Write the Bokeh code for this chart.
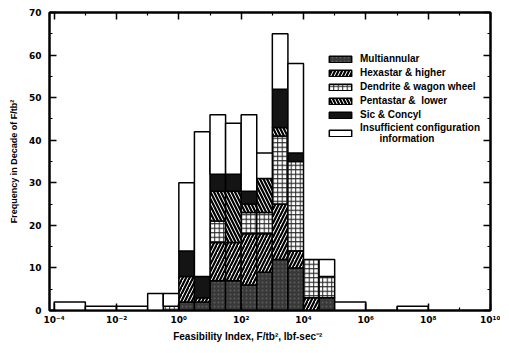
import numpy as np
from bokeh.plotting import figure
from bokeh.models import (ColumnDataSource, FixedTicker, LinearAxis, LogAxis,
                          Legend, LegendItem, Range1d)
from bokeh.embed import file_html
from bokeh.resources import INLINE

# ---- data (bin edges are log10 of Feasibility Index) ----
bin_lo = [-4, -3, -2, -1, -0.5, 0, 0.5, 1, 1.5, 2, 2.5, 3, 3.5, 4, 4.5, 5, 7]
bin_hi = [-3, -2, -1, -0.5, 0, 0.5, 1, 1.5, 2, 2.5, 3, 3.5, 4, 4.5, 5, 6, 8]

multiannular = [0, 0, 0, 0, 0, 2, 2, 7, 7, 6, 9, 12, 10, 0, 3, 0, 0]
hexastar     = [0, 0, 0, 0, 0, 6, 1, 9, 9, 12, 9, 13, 4, 3, 0, 0, 0]
dendrite     = [0, 0, 0, 0, 1, 0, 0, 5, 0, 5, 5, 16, 21, 9, 5, 0, 0]
pentastar    = [0, 0, 0, 0, 0, 0, 0, 7, 12, 2, 8, 2, 0, 0, 0, 0, 0]
sic_concyl   = [0, 0, 0, 0, 0, 6, 5, 4, 4, 3, 0, 9, 2, 0, 0, 0, 0]
insufficient = [2, 1, 1, 4, 3, 16, 34, 14, 12, 18, 6, 13, 21, 0, 4, 2, 1]

categories = ["Multiannular", "Hexastar & higher", "Dendrite & wagon wheel",
              "Pentastar &  lower", "Sic & Concyl",
              "Insufficient configuration\n       information"]
series = [multiannular, hexastar, dendrite, pentastar, sic_concyl, insufficient]

x_tick_exps = [-4, -2, 0, 2, 4, 6, 8, 10]
x_tick_labels = ["10\u207b\u2074", "10\u207b\u00b2", "10\u2070", "10\u00b2",
                 "10\u2074", "10\u2076", "10\u2078", "10\u00b9\u2070"]
x_minor_exps = [-3, -1, 1, 3, 5, 7, 9]
y_ticks = [0, 10, 20, 30, 40, 50, 60, 70]
y_minor = [5, 15, 25, 35, 45, 55, 65]

styles = [
    dict(fill_color="#383838", hatch_pattern="dot", hatch_color="#5c5c5c", hatch_scale=4, hatch_weight=1),
    dict(fill_color="white", hatch_pattern="right_diagonal_line", hatch_color="black", hatch_scale=7, hatch_weight=2.2),
    dict(fill_color="white", hatch_pattern="cross", hatch_color="#222222", hatch_scale=4.5, hatch_weight=1),
    dict(fill_color="white", hatch_pattern="left_diagonal_line", hatch_color="black", hatch_scale=7, hatch_weight=2.2),
    dict(fill_color="#141414"),
    dict(fill_color="white"),
]

FONT = "Liberation Sans"
TICK_FONT = "DejaVu Sans"

p = figure(x_axis_type="log", x_range=Range1d(10 ** -4.15, 1e10), y_range=Range1d(0, 70),
           frame_width=441, frame_height=298, output_backend="svg",
           toolbar_location=None, min_border_left=49, min_border_right=10,
           min_border_top=12, min_border_bottom=34, background_fill_color="white",
           border_fill_color="white")
p.grid.visible = False
p.outline_line_color = "black"
p.outline_line_width = 2

lo = np.array(bin_lo, dtype=float)
hi = np.array(bin_hi, dtype=float)
base = np.zeros(len(lo))
items = []
for name, vals, st in zip(categories, series, styles):
    v = np.array(vals, dtype=float)
    m = v > 0
    src = ColumnDataSource(dict(left=10 ** lo[m], right=10 ** hi[m],
                                bottom=base[m], top=(base + v)[m]))
    r = p.quad(left="left", right="right", bottom="bottom", top="top", source=src,
               line_color="black", line_width=1.5, **st)
    items.append(LegendItem(label=name, renderers=[r]))
    base = base + v

legend = Legend(items=items, location=(277, 166), orientation="vertical",
                background_fill_alpha=0, border_line_color=None, padding=0, margin=0,
                glyph_width=28, glyph_height=8, label_height=13, spacing=1,
                label_standoff=6, label_text_font=FONT, label_text_font_style="bold",
                label_text_font_size="10px", label_text_color="black")
p.add_layout(legend)

def style_axis(ax, show_labels):
    ax.axis_line_width = 2
    ax.axis_line_color = "black"
    ax.major_tick_in = 7
    ax.major_tick_out = 0
    ax.minor_tick_in = 3
    ax.minor_tick_out = 0
    ax.major_tick_line_width = 1.5
    ax.minor_tick_line_width = 1.2
    if show_labels:
        ax.major_label_text_font = TICK_FONT
        ax.major_label_text_font_style = "bold"
        ax.major_label_text_font_size = "9px"
        ax.major_label_text_color = "black"
        ax.axis_label_text_font = FONT
        ax.axis_label_text_font_style = "bold"
        ax.axis_label_text_font_size = "10px"
        ax.axis_label_text_color = "black"
    else:
        ax.major_label_text_font_size = "1px"
        ax.major_label_text_alpha = 0
        ax.major_label_standoff = 0

xt = FixedTicker(ticks=[10.0 ** e for e in x_tick_exps], minor_ticks=[10.0 ** e for e in x_minor_exps])
yt = FixedTicker(ticks=y_ticks, minor_ticks=y_minor)

xb = p.xaxis[0]
xb.ticker = xt
xb.major_label_overrides = {10.0 ** e: lab for e, lab in zip(x_tick_exps, x_tick_labels)}
xb.axis_label = "Feasibility Index, F/tb\u00b2, lbf-sec\u207b\u00b2" + "\u00a0" * 16
xb.major_label_standoff = 4
xb.axis_label_standoff = 3
style_axis(xb, True)

yl = p.yaxis[0]
yl.ticker = yt
yl.axis_label = "Frequency in Decade of F/tb\u00b2"
yl.major_label_standoff = 8
yl.axis_label_standoff = 7
style_axis(yl, True)
yl.axis_label_text_font_size = "9px"

xa = LogAxis(ticker=xt)
style_axis(xa, False)
p.add_layout(xa, "above")
yr = LinearAxis(ticker=yt)
style_axis(yr, False)
p.add_layout(yr, "right")

open("out.html", "w").write(file_html(p, INLINE))
